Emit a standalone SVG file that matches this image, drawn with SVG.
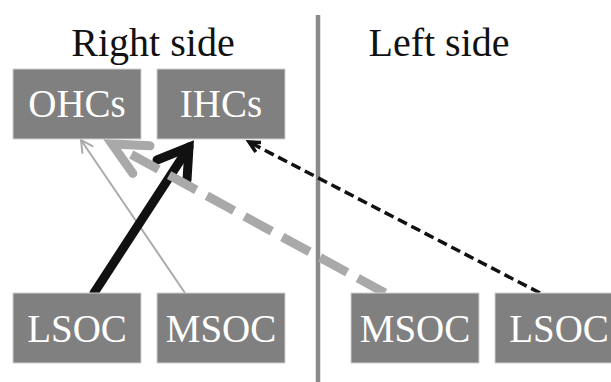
<svg xmlns="http://www.w3.org/2000/svg" width="611" height="382" viewBox="0 0 611 382">
<style>
text{font-family:"Liberation Serif","Times New Roman",serif}
.title{font-size:40px;fill:#111;text-anchor:middle}
.box{fill:#808080;stroke:#cfcfcf;stroke-width:1}
.lbl{font-size:39px;fill:#ffffff;text-anchor:middle}
.thin{fill:none;stroke:#ababab;stroke-width:2;stroke-linecap:round;stroke-linejoin:miter}
.bold{fill:none;stroke:#111;stroke-width:9;stroke-linecap:round;stroke-linejoin:miter}
.gdash{fill:none;stroke:#a9a9a9;stroke-width:9;stroke-dasharray:31 12}
.ghead{fill:none;stroke:#a9a9a9;stroke-width:9;stroke-linecap:round;stroke-linejoin:miter}
.kdash{fill:none;stroke:#111;stroke-width:3.5;stroke-dasharray:10 5}
.khead{fill:none;stroke:#111;stroke-width:3.5;stroke-linecap:butt;stroke-linejoin:miter}
</style>
<rect width="611" height="382" fill="#fff"/>
<g id="titles">
<text class="title" x="153" y="56">Right side</text>
<text class="title" x="439" y="56">Left side</text>
</g>
<line id="divider" x1="318" y1="15" x2="318" y2="382" stroke="#8a8a8a" stroke-width="4.5"/>
<g id="connectors">
<line class="thin" x1="185" y1="293" x2="81" y2="140"/>
<polyline class="thin" points="92.5,146.1 81,140 82.4,152.9"/>
<line class="bold" x1="94" y1="293" x2="189" y2="147"/>
<polyline class="bold" points="157,160 189,147 187,180"/>
<line class="gdash" x1="385" y1="293" x2="112" y2="144"/>
<polyline class="ghead" points="150,145.8 112,144 132.8,173.4"/>
<line class="kdash" x1="540" y1="293" x2="249" y2="142"/>
<polyline class="khead" points="261,142.5 249,142 255.8,151.9"/>
</g>
<g id="OHCs"><rect class="box" x="13" y="69" width="128" height="70"/><text class="lbl" x="77" y="117" font-family="Liberation Serif, serif">OHCs</text></g>
<g id="IHCs"><rect class="box" x="157" y="69" width="128" height="70"/><text class="lbl" x="221" y="117" font-family="Liberation Serif, serif">IHCs</text></g>
<g id="LSOC-right"><rect class="box" x="13" y="293" width="128" height="70"/><text class="lbl" x="77" y="342" font-family="Liberation Serif, serif">LSOC</text></g>
<g id="MSOC-right"><rect class="box" x="157" y="293" width="128" height="70"/><text class="lbl" x="221" y="342" font-family="Liberation Serif, serif">MSOC</text></g>
<g id="MSOC-left"><rect class="box" x="351" y="293" width="128" height="70"/><text class="lbl" x="415" y="342" font-family="Liberation Serif, serif">MSOC</text></g>
<g id="LSOC-left"><rect class="box" x="495" y="293" width="128" height="70"/><text class="lbl" x="559" y="342" font-family="Liberation Serif, serif">LSOC</text></g>
</svg>
